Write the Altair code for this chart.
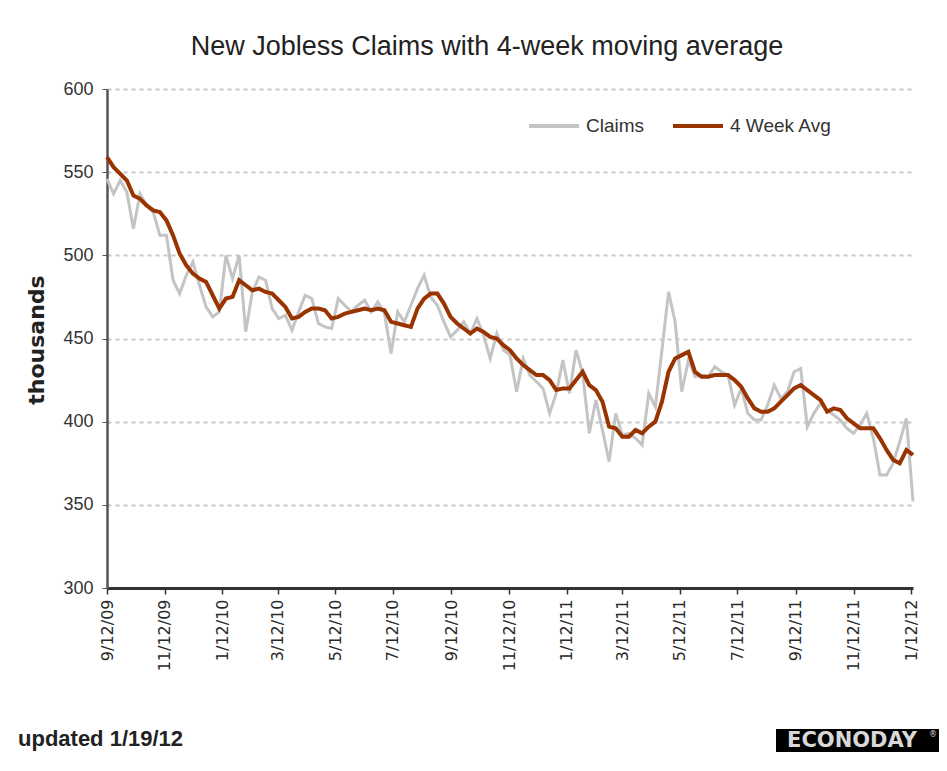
import altair as alt
import pandas as pd

TITLE = "New Jobless Claims with 4-week moving average"
Y_TITLE = "thousands"
NOTE = "updated 1/19/12"
LOGO = "ECONODAY"

series_names = ["Claims", "4 Week Avg"]
series_colors = ["#c4c4c4", "#993300"]

# weekly initial claims (thousands), week ending 9/12/09 ... 1/14/12
claims = [
    546, 537, 545, 538, 516, 537, 530, 526, 512, 512,
    485, 477, 488, 496, 482, 469, 463, 466, 500, 486,
    500, 454, 478, 487, 485, 468, 462, 464, 455, 466,
    476, 474, 459, 457, 456, 474, 470, 466, 470, 473,
    466, 472, 465, 441, 466, 460, 470, 480, 488, 475,
    470, 460, 451, 455, 460, 453, 462, 452, 438, 453,
    443, 440, 418, 438, 428, 424, 420, 405, 417, 437,
    417, 443, 429, 393, 413, 395, 376, 405, 392, 393,
    390, 386, 417, 409, 443, 478, 460, 418, 437, 427,
    428, 427, 433, 430, 428, 410, 420, 405, 401, 401,
    410, 422, 414, 418, 430, 432, 397, 405, 411, 407,
    404, 401, 396, 393, 398, 405, 390, 368, 368, 375,
    388, 402, 352,
]

# 4-week moving average (thousands)
avg4 = [
    559, 553, 549, 545, 536, 534, 530, 527, 526, 521,
    512, 501, 494, 489, 486, 484, 476, 468, 474, 475,
    485, 482, 479, 480, 478, 477, 473, 469, 462, 463,
    466, 468, 468, 467, 462, 463, 465, 466, 467, 468,
    467, 468, 467, 460, 459, 458, 457, 468, 474, 477,
    477, 471, 463, 459, 456, 453, 456, 454, 451, 450,
    446, 443, 438, 434, 431, 428, 428, 425, 419, 420,
    420, 425, 430, 422, 419, 412, 397, 396, 391, 391,
    395, 393, 397, 400, 412, 430, 438, 440, 442, 430,
    427, 427, 428, 428, 428, 425, 421, 414, 408, 406,
    406, 408, 412, 416, 420, 422, 419, 416, 413, 406,
    408, 407, 402, 399, 396, 396, 396, 390, 383, 377,
    375, 383, 380,
]

y_ticks = [300, 350, 400, 450, 500, 550, 600]
x_tick_dates = [
    (2009, 9, 12), (2009, 11, 12), (2010, 1, 12), (2010, 3, 12), (2010, 5, 12),
    (2010, 7, 12), (2010, 9, 12), (2010, 11, 12), (2011, 1, 12), (2011, 3, 12),
    (2011, 5, 12), (2011, 7, 12), (2011, 9, 12), (2011, 11, 12), (2012, 1, 12),
]
first_week = "2009-09-12"
last_week = (2012, 1, 14)

weeks = pd.date_range(first_week, periods=len(claims), freq="7D").strftime("%Y/%m/%d")
df_claims = pd.DataFrame({"date": weeks, "value": claims, "series": series_names[0]})
df_avg = pd.DataFrame({"date": weeks, "value": avg4, "series": series_names[1]})

NARROW = "Liberation Sans Narrow, Arial Narrow, Liberation Sans, Arial, sans-serif"
WIDE = "DejaVu Sans, Verdana, sans-serif"

W, H = 806, 499

def dt(t):
    return alt.DateTime(year=t[0], month=t[1], date=t[2])

x_enc = alt.X(
    "date:T",
    scale=alt.Scale(domain=[dt(x_tick_dates[0]), dt(last_week)], nice=False),
    axis=alt.Axis(
        values=[dt(t) for t in x_tick_dates],
        format="%-m/%-d/%y",
        labelAngle=270,
        title=None,
        grid=False,
        tickSize=6,
        tickWidth=1.5,
        tickColor="#333333",
        domainColor="#333333",
        domainWidth=3,
        labelFont=WIDE,
        labelFontSize=16,
        labelColor="#2a2a2a",
        labelPadding=5,
        labelOverlap=False,
        labelFlush=False,
    ),
)
y_enc = alt.Y(
    "value:Q",
    scale=alt.Scale(domain=[300, 600], nice=False, zero=False),
    axis=alt.Axis(
        values=y_ticks,
        title=None,
        grid=True,
        gridDash=[4, 4],
        gridColor="#c8c8c8",
        gridWidth=2,
        tickSize=5,
        tickColor="#555555",
        domainColor="#555555",
        domainWidth=2.5,
        labelFont=NARROW,
        labelFontSize=18,
        labelColor="#333333",
        labelPadding=9,
    ),
)
color_scale = alt.Scale(domain=series_names, range=series_colors)

claims_line = alt.Chart(df_claims).mark_line(strokeWidth=3).encode(
    x=x_enc,
    y=y_enc,
    color=alt.Color(
        "series:N",
        scale=color_scale,
        legend=alt.Legend(
            orient="none",
            legendX=420,
            legendY=10,
            direction="horizontal",
            title=None,
            symbolType="stroke",
            symbolSize=2500,
            symbolStrokeWidth=4,
            labelFont=NARROW,
            labelFontSize=19,
            labelColor="#333333",
            labelOffset=5,
            columnPadding=20,
            padding=0,
        ),
    ),
)
avg_line = alt.Chart(df_avg).mark_line(strokeWidth=4).encode(
    x=x_enc, y=y_enc, color=alt.Color("series:N", scale=color_scale)
)

title_text = alt.Chart(pd.DataFrame({"t": [TITLE]})).mark_text(
    font=NARROW, fontSize=27, color="#222222", align="center", baseline="middle"
).encode(x=alt.value(380), y=alt.value(-42), text="t:N")

ytitle_text = alt.Chart(pd.DataFrame({"t": [Y_TITLE]})).mark_text(
    font=WIDE, fontSize=22, fontWeight="bold", color="#222222", angle=270,
    align="center", baseline="middle"
).encode(x=alt.value(-70), y=alt.value(251), text="t:N")

note_text = alt.Chart(pd.DataFrame({"t": [NOTE]})).mark_text(
    font=NARROW, fontSize=22, fontWeight="bold", color="#222222",
    align="left", baseline="middle"
).encode(x=alt.value(-89), y=alt.value(650), text="t:N")

logo_box = alt.Chart(pd.DataFrame({"t": [LOGO]})).mark_rect(color="#000000").encode(
    x=alt.value(669), x2=alt.value(833), y=alt.value(640), y2=alt.value(663)
)
logo_text = alt.Chart(pd.DataFrame({"t": [LOGO]})).mark_text(
    font=WIDE, fontSize=21, fontWeight="bold", color="#d8d8d8",
    align="center", baseline="middle"
).encode(x=alt.value(745), y=alt.value(652), text="t:N")
logo_reg = alt.Chart(pd.DataFrame({"t": ["®"]})).mark_text(
    font=WIDE, fontSize=8, color="#d8d8d8", align="center", baseline="middle"
).encode(x=alt.value(826), y=alt.value(646), text="t:N")

chart = alt.layer(
    claims_line, avg_line, title_text, ytitle_text, note_text, logo_box, logo_text, logo_reg
).properties(
    width=W,
    height=H,
    autosize=alt.AutoSizeParams(type="none"),
    padding={"left": 99, "top": 81, "right": 26, "bottom": 175},
    background="#ffffff",
).configure_view(stroke=None)

chart.save("out.html", embed_options={"renderer": "svg", "actions": False})
